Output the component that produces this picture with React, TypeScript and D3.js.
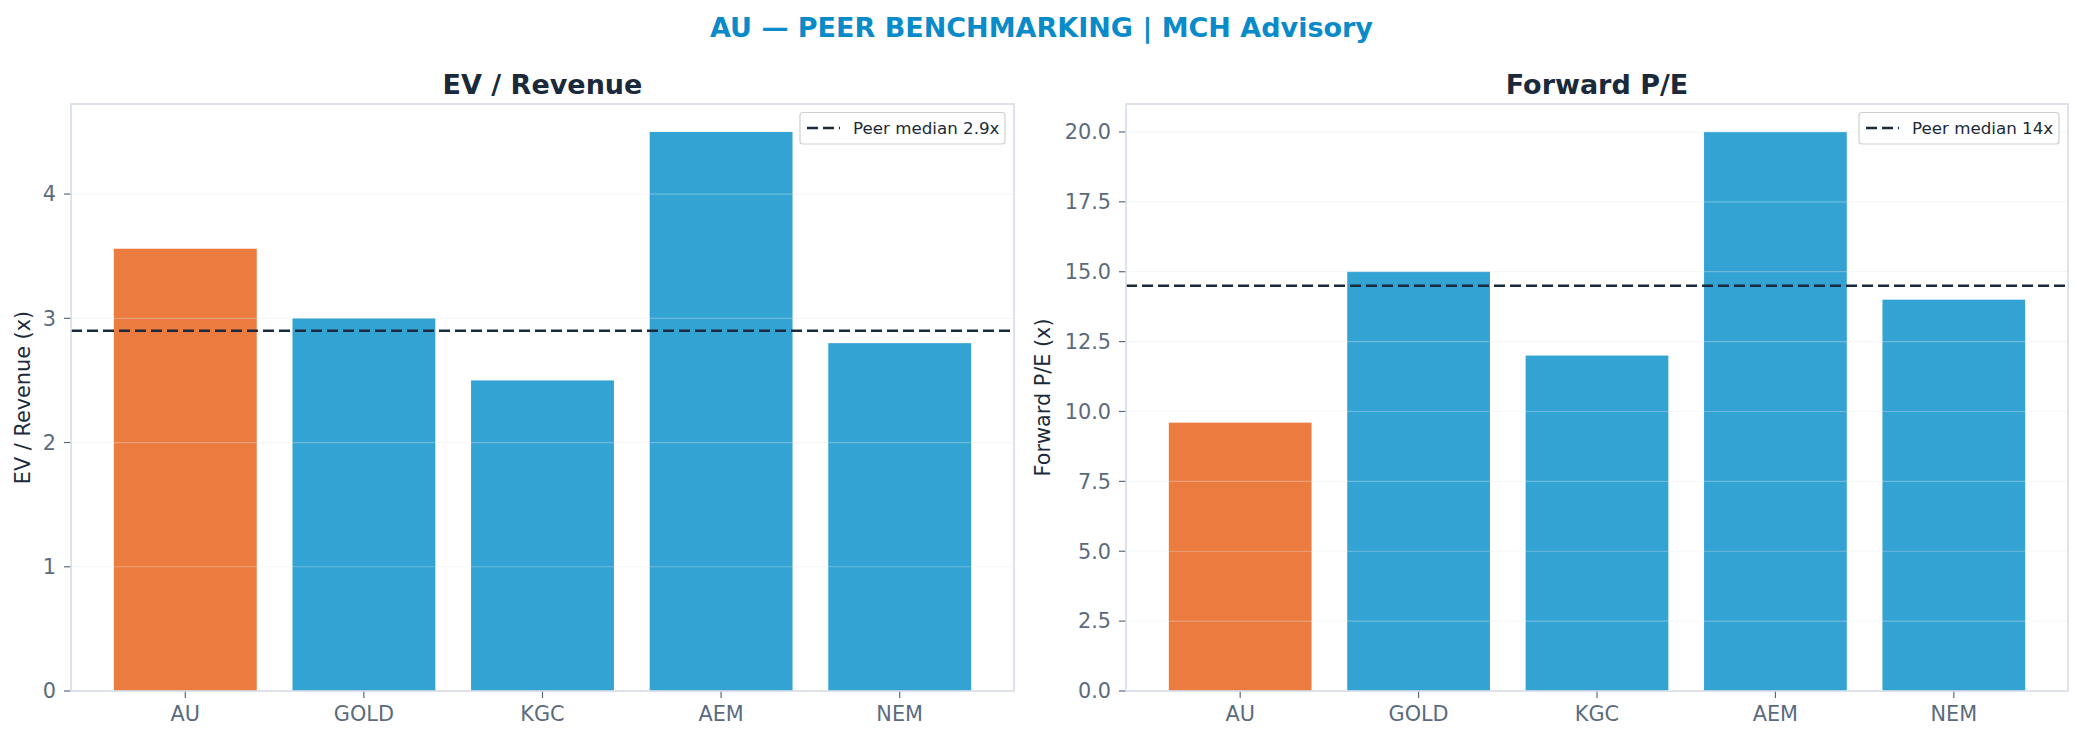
import * as d3 from "d3";

const tickers = ["AU", "GOLD", "KGC", "AEM", "NEM"];
const evRevenue = [3.56, 3.0, 2.5, 4.5, 2.8];
const forwardPE = [9.6, 15.0, 12.0, 20.0, 14.0];
const evTicks = [0, 1, 2, 3, 4];
const peTicks = [0, 2.5, 5, 7.5, 10, 12.5, 15, 17.5, 20];

const W = 2083;
const H = 741;
const FONT = "DejaVu Sans";
const ORANGE = "#ec7b3f";
const BLUE = "#33a3d4";
const DARK = "#1b2a3a";
const TICK = "#5b6b7e";
const SPINE = "#d6dde6";

function median(v: number[]) {
    return d3.median(v) as number;
}

function Panel({values, ticks, fmt, title, ylabel, legend, legW, left, right, top, bottom, labelX}: {
    values: number[]
    ticks: number[]
    fmt: (v: number) => string
    title: string
    ylabel: string
    legend: string
    legW: number
    left: number
    right: number
    top: number
    bottom: number
    labelX: number
}) {
    const x = d3.scaleBand<string>().domain(tickers).range([left, right]).paddingInner(0.2).paddingOuter(0.24);
    const ymax = (d3.max(values) as number) * 1.05;
    const y = d3.scaleLinear().domain([0, ymax]).range([bottom, top]);
    // peers only (first one is the subject)
    const med = median(values.slice(1));
    const cx = (left + right) / 2;
    const cy = (top + bottom) / 2;
    const legX = right - 9 - legW;

    return <g>
        <text x={cx} y={94} textAnchor="middle" fontFamily={FONT} fontWeight="bold" fontSize={27} fill={DARK}>{title}</text>
        {values.map((v, i) =>
            <rect key={tickers[i]} x={x(tickers[i])} y={y(v)} width={x.bandwidth()} height={bottom - y(v)}
                  fill={i === 0 ? ORANGE : BLUE}/>
        )}
        {ticks.map(t =>
            <g key={t}>
                <line x1={left} x2={right} y1={y(t)} y2={y(t)} stroke="#dfe4ea" strokeOpacity={0.35} strokeWidth={1.2}/>
                <line x1={left - 7} x2={left} y1={y(t)} y2={y(t)} stroke={TICK} strokeWidth={1.2}/>
                <text x={left - 15} y={y(t)} dy="0.35em" textAnchor="end" fontFamily={FONT} fontSize={20.8} fill={TICK}>{fmt(t)}</text>
            </g>
        )}
        {tickers.map(c =>
            <g key={c}>
                <line x1={(x(c) as number) + x.bandwidth() / 2} x2={(x(c) as number) + x.bandwidth() / 2}
                      y1={bottom} y2={bottom + 7} stroke={TICK} strokeWidth={1.2}/>
                <text x={(x(c) as number) + x.bandwidth() / 2} y={bottom + 30} textAnchor="middle" fontFamily={FONT}
                      fontSize={20.8} fill={TICK}>{c}</text>
            </g>
        )}
        <line x1={left} x2={right} y1={y(med)} y2={y(med)} stroke={DARK} strokeWidth={2.5} strokeDasharray="11,5"/>
        <rect x={left} y={top} width={right - left} height={bottom - top} fill="none" stroke={SPINE} strokeWidth={1.6}/>
        <text transform={`translate(${labelX},${cy}) rotate(-90)`} textAnchor="middle" fontFamily={FONT}
              fontSize={20.8} fill={DARK}>{ylabel}</text>
        <rect x={legX} y={top + 8.5} width={legW} height={31.5} rx={3} fill="white" fillOpacity={0.85}
              stroke="#d0d0d0" strokeWidth={1.2}/>
        <line x1={legX + 7} x2={legX + 40} y1={top + 24} y2={top + 24} stroke={DARK} strokeWidth={2.5}
              strokeDasharray="11,5"/>
        <text x={legX + 53} y={top + 24} dy="0.35em" fontFamily={FONT} fontSize={16.7}
              fill={DARK}>{legend}</text>
    </g>;
}

export default function App() {
    const medEv = median(evRevenue.slice(1));
    const medPe = median(forwardPE.slice(1));
    return <svg width={W} height={H} viewBox={`0 0 ${W} ${H}`}
                style={{position: "absolute", left: 0, top: 0, background: "white"}}>
        <text x={W / 2} y={37} textAnchor="middle" fontFamily={FONT} fontWeight="bold" fontSize={27}
              fill="#0a8bc9">AU — PEER BENCHMARKING | MCH Advisory</text>
        <Panel values={evRevenue} ticks={evTicks} fmt={d3.format("d")} title="EV / Revenue"
               ylabel="EV / Revenue (x)" legend={`Peer median ${medEv.toFixed(1)}x`} legW={205}
               left={71} right={1014} top={104} bottom={691} labelX={30}/>
        <Panel values={forwardPE} ticks={peTicks} fmt={d3.format(".1f")} title="Forward P/E"
               ylabel="Forward P/E (x)" legend={`Peer median ${Math.floor(medPe)}x`} legW={200}
               left={1126} right={2068} top={104} bottom={691} labelX={1050}/>
    </svg>;
}
